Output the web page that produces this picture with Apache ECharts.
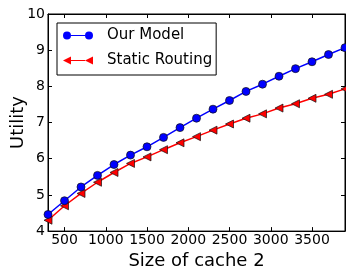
<!DOCTYPE html>
<html>
<head>
<meta charset="utf-8">
<script src="https://cdn.jsdelivr.net/npm/echarts@6/dist/echarts.min.js"></script>
<style>
  html, body { margin: 0; padding: 0; background: #fff; }
  #chart { width: 346px; height: 275px; }
</style>
</head>
<body>
<div id="chart"></div>
<script>
var cacheSizes = [300, 500, 700, 900, 1100, 1300, 1500, 1700, 1900, 2100, 2300, 2500, 2700, 2900, 3100, 3300, 3500, 3700, 3900];
var ourModel = [4.46, 4.84, 5.22, 5.54, 5.84, 6.10, 6.33, 6.59, 6.86, 7.12, 7.37, 7.61, 7.86, 8.06, 8.28, 8.49, 8.68, 8.88, 9.07];
var staticRouting = [4.30, 4.70, 5.04, 5.35, 5.62, 5.87, 6.05, 6.25, 6.44, 6.61, 6.79, 6.96, 7.12, 7.24, 7.40, 7.52, 7.67, 7.78, 7.93];
var xTicks = [500, 1000, 1500, 2000, 2500, 3000, 3500];

var font = 'DejaVu Sans';
// legend icons: line with two markers, like matplotlib
var circleIcon = 'path://M0,4A4,4,0,1,1,8,4A4,4,0,1,1,0,4Z M22,4A4,4,0,1,1,30,4A4,4,0,1,1,22,4Z M8,3.4L22,3.4L22,4.6L8,4.6Z';
var triIcon = 'path://M0,4L8,0L8,8Z M22,4L30,0L30,8Z M8,3.4L22,3.4L22,4.6L8,4.6Z';

var chart = echarts.init(document.getElementById('chart'));

function pairs (ys) {
  return cacheSizes.map(function (x, i) { return [x, ys[i]]; });
}

var tickStyle = { inside: true, length: 4, lineStyle: { color: '#000' } };

var option = {
  animation: false,
  grid: {
    left: 48, right: 1, top: 14, bottom: 39,
    show: true, borderColor: '#000', borderWidth: 1
  },
  legend: {
    orient: 'vertical',
    left: 57, top: 23,
    padding: [5, 4, 7, 6],
    itemGap: 10,
    itemWidth: 30,
    itemHeight: 8,
    borderColor: '#000',
    borderWidth: 1,
    borderRadius: 0,
    textStyle: { fontFamily: font, fontSize: 15, color: '#000', padding: [0, 0, 0, 9] },
    data: [
      { name: 'Our Model', icon: circleIcon, itemStyle: { color: '#0000ff', borderWidth: 0 } },
      { name: 'Static Routing', icon: triIcon, itemStyle: { color: '#ff0000', borderWidth: 0 } }
    ]
  },
  xAxis: [
    {
      type: 'value', min: 300, max: 3900,
      name: 'Size of cache 2', nameLocation: 'middle', nameGap: 18,
      nameTextStyle: { fontFamily: font, fontSize: 18, color: '#000' },
      axisLine: { lineStyle: { color: '#000' } },
      axisTick: Object.assign({ customValues: xTicks }, tickStyle),
      axisLabel: {
        customValues: xTicks, margin: 2, fontFamily: font, fontSize: 14, color: '#000',
        formatter: function (v) { return String(v); }
      },
      splitLine: { show: false }
    },
    {
      type: 'value', min: 300, max: 3900, position: 'top',
      axisLine: { lineStyle: { color: '#000' } },
      axisTick: Object.assign({ customValues: xTicks }, tickStyle),
      axisLabel: { show: false },
      splitLine: { show: false }
    }
  ],
  yAxis: [
    {
      type: 'value', min: 4, max: 10, interval: 1,
      name: 'Utility', nameLocation: 'middle', nameGap: 21, nameMoveOverlap: false,
      nameTextStyle: { fontFamily: font, fontSize: 18, color: '#000' },
      axisLine: { show: true, lineStyle: { color: '#000' } },
      axisTick: tickStyle,
      axisLabel: { margin: 3, fontFamily: font, fontSize: 14, color: '#000' },
      splitLine: { show: false }
    },
    {
      type: 'value', min: 4, max: 10, interval: 1, position: 'right',
      axisLine: { show: true, lineStyle: { color: '#000' } },
      axisTick: tickStyle,
      axisLabel: { show: false },
      splitLine: { show: false }
    }
  ],
  series: [
    {
      name: 'Our Model',
      type: 'line',
      data: pairs(ourModel),
      symbol: 'circle',
      symbolSize: 8,
      lineStyle: { color: '#0000ff', width: 1.5 },
      itemStyle: { color: '#0000ff', borderColor: '#111', borderWidth: 0.7 },
      z: 3
    },
    {
      name: 'Static Routing',
      type: 'line',
      data: pairs(staticRouting),
      symbol: 'triangle',
      symbolRotate: 90,
      symbolSize: 8,
      lineStyle: { color: '#ff0000', width: 1.5 },
      itemStyle: { color: '#ff0000', borderColor: '#111', borderWidth: 0.7 },
      z: 2
    }
  ]
};

chart.setOption(option);
</script>
</body>
</html>
